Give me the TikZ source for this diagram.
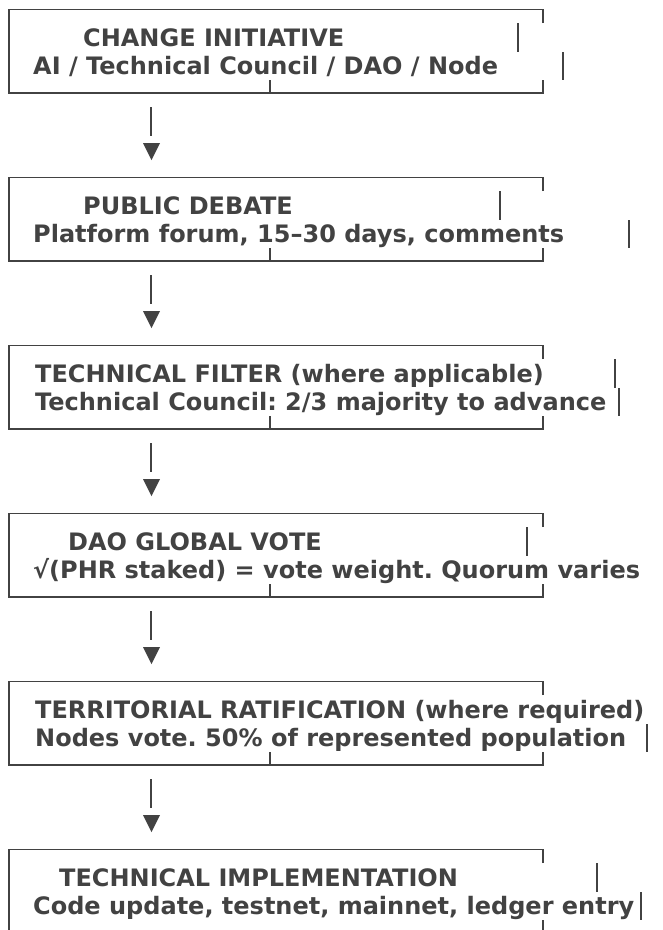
\documentclass[tikz,border=0pt]{standalone}
\usepackage{fontspec}
\setmainfont{DejaVu Sans}
\usetikzlibrary{calc}
\definecolor{ink}{HTML}{424242}
\tikzset{
  frame/.style={draw=ink, line width=1.3pt},
  txt/.style={anchor=base west, inner sep=0pt, text=ink, font=\bfseries\fontsize{24}{28}\selectfont},
  flow/.style={draw=ink, line width=1.3pt},
  tip/.style={fill=ink, draw=none}
}
\newcommand{\stagebox}[8]{%
  % #1 name, #2 top, #3 bar1 x, #4 bar2 x, #5 title x, #6 title, #7 line2 x, #8 line2
  \coordinate (#1-tl) at (9,#2);
  \coordinate (#1-br) at (543,#2+83.5);
  \draw[frame] (543,#2+13.5) -- (543,#2) -- (9,#2) -- (9,#2+83.5) -- (543,#2+83.5) -- (543,#2+70.5);
  \draw[frame] (#3,#2+13.5) -- (#3,#2+42.5);
  \draw[frame] (#4,#2+42.5) -- (#4,#2+70.5);
  \node[txt] (#1-title) at (#5,#2+36.5) {#6};
  \node[txt] (#1-body) at (#7,#2+64.5) {#8};
  \coordinate (#1-out) at (151,#2+97.5);
}
\newcommand{\stagetee}[2]{%
  \coordinate (#1-tee) at (270,#2+83.5);
  \draw[frame] (#1-tee) -- ++(0,-13);
}
\newcommand{\flowarrow}[1]{%
  \coordinate (#1-a) at (#1-out);
  \coordinate (#1-b) at ($(#1-out)+(0,29)$);
  \draw[flow] (#1-a) -- (#1-b);
  \fill[tip] ($(#1-out)+(-8,36)$) -- ($(#1-out)+(9,36)$) -- ($(#1-out)+(0.5,53)$) -- cycle;
}
\begin{document}
\frenchspacing
\begin{tikzpicture}[x=1pt,y=-1pt]
\useasboundingbox (0,0) rectangle (662,930);
\clip (0,0) rectangle (662,930);
\stagebox{s1}{9.5}{518}{563}{83}{CHANGE INITIATIVE}{33}{AI / Technical Council / DAO / Node}
\stagebox{s2}{177.5}{500}{629}{83}{PUBLIC DEBATE}{33}{Platform forum, 15–30 days, comments}
\stagebox{s3}{345.5}{615}{619}{35}{TECHNICAL FILTER (where applicable)}{35}{Technical Council: 2/3 majority to advance}
\stagebox{s4}{513.5}{527}{700}{68}{DAO GLOBAL VOTE}{33}{√(PHR staked) = vote weight. Quorum varies}
\stagebox{s5}{681.5}{700}{647}{35}{TERRITORIAL RATIFICATION (where required)}{35}{Nodes vote. 50\% of represented population}
\stagebox{s6}{849.5}{597}{641}{59}{TECHNICAL IMPLEMENTATION}{33}{Code update, testnet, mainnet, ledger entry}
\stagetee{s1}{9.5}
\stagetee{s2}{177.5}
\stagetee{s3}{345.5}
\stagetee{s4}{513.5}
\stagetee{s5}{681.5}
\flowarrow{s1}
\flowarrow{s2}
\flowarrow{s3}
\flowarrow{s4}
\flowarrow{s5}
\end{tikzpicture}
\end{document}
